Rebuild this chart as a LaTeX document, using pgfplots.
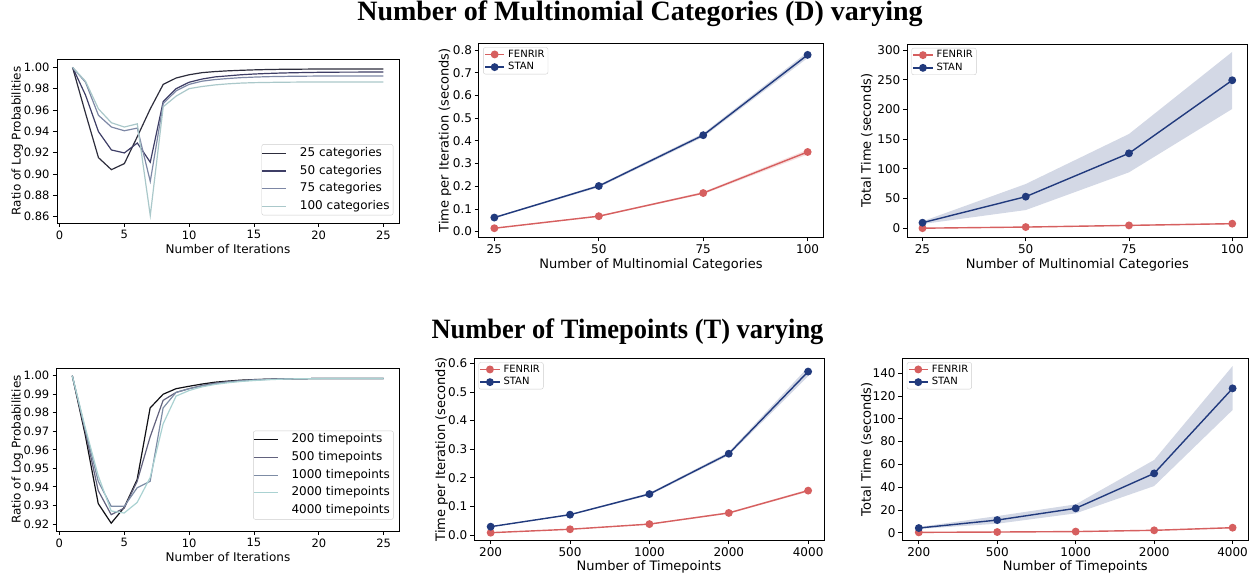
\documentclass[border=0pt]{standalone}
\usepackage{fontspec}
\setmainfont{DejaVu Sans}
\newfontfamily\titlefont{Liberation Serif}
\usepackage{graphicx}
\usepackage{pgfplots}
\pgfplotsset{compat=1.18}

\definecolor{fenrir}{RGB}{214,95,95}
\definecolor{stan}{RGB}{33,58,125}
\definecolor{cA}{RGB}{45,45,60}
\definecolor{cB}{RGB}{62,62,102}
\definecolor{cC}{RGB}{125,135,165}
\definecolor{cD}{RGB}{170,200,202}
\definecolor{tA}{RGB}{15,15,20}
\definecolor{tB}{RGB}{98,98,125}
\definecolor{tC}{RGB}{125,140,165}
\definecolor{tD}{RGB}{170,210,210}

\pgfplotsset{
  base/.style={
    scale only axis, tick align=outside, tick pos=left,
    major tick length=4pt, axis line style={line width=0.8pt},
    every tick/.style={black, line width=0.8pt},
    /pgf/number format/assume math mode=true,
    scaled y ticks=false, scaled x ticks=false,
    legend cell align=left,
  },
  convp/.style={base,
    tick label style={font=\fontsize{11.5}{13}\selectfont},
    label style={font=\fontsize{12}{14}\selectfont},
    xmin=-0.2, xmax=26.2, xtick={0,5,10,15,20,25},
    yticklabel style={/pgf/number format/.cd, fixed, fixed zerofill, precision=2},
    xlabel={Number of Iterations}, ylabel={Ratio of Log Probabilities},
    legend style={at={(axis description cs:1,0)}, anchor=south east,
      xshift=-5.7pt, yshift=7.6pt, draw=black!20, rounded corners=2pt,
      font=\fontsize{12}{14}\selectfont, inner sep=0pt,
      nodes={inner xsep=3.5pt, inner ysep=3.2pt, text height=8.8pt, text depth=2.5pt},
      /tikz/every odd column/.append style={column sep=9.5pt}},
    legend image code/.code={\draw[#1] (0pt,0pt) -- (24pt,0pt);},
    every axis plot/.append style={line width=1.2pt},
  },
  timep/.style={base,
    tick label style={font=\fontsize{12}{14}\selectfont},
    yticklabel style={inner xsep=2.5pt},
    label style={font=\fontsize{13}{15}\selectfont},
    legend style={at={(axis description cs:0,1)}, anchor=north west,
      xshift=4.5pt, yshift=-4pt, draw=black!20, rounded corners=2pt,
      font=\fontsize{10}{11}\selectfont, inner xsep=0.9pt, inner ysep=0.6pt,
      nodes={inner xsep=2.5pt, inner ysep=1.65pt, text height=7.3pt, text depth=2.1pt},
      /tikz/every odd column/.append style={column sep=0.7pt}},
    legend image code/.code={\draw[mark repeat=2,mark phase=2,#1] plot coordinates {(0pt,0pt) (9.65pt,0pt) (19.3pt,0pt)};},
  },
  fen/.style={color=fenrir, line width=1.4pt, mark=*, mark size=3.2pt, mark options={solid, fill=fenrir}},
  sta/.style={color=stan, line width=1.4pt, mark=*, mark size=3.2pt, mark options={solid, fill=stan}},
  fenband/.style={draw=none, fill=fenrir, fill opacity=0.2, forget plot},
  staband/.style={draw=none, fill=stan, fill opacity=0.2, forget plot},
}

\begin{document}
\begin{tikzpicture}
\useasboundingbox (0pt,0pt) rectangle (1259pt,577pt);

\node[anchor=base, font=\titlefont\bfseries\fontsize{28}{30}\selectfont] at (640pt,556pt) {Number of Multinomial Categories (D) varying};
\node[anchor=base, font=\titlefont\bfseries\fontsize{28}{30}\selectfont] at (627.5pt,238.7pt) {\scalebox{0.945}[1]{Number of Timepoints (T) varying}};

% ---- top left: convergence over categories
\begin{axis}[convp, at={(57pt,354pt)}, anchor=south west, width=342pt, height=164pt,
  ymin=0.854, ymax=1.0078, ytick={0.86,0.88,...,1.001},
  xlabel style={at={(axis description cs:0.5,-0.1585)}, anchor=center},
  ylabel style={at={(axis description cs:-0.1161,0.5)}, anchor=center}]
\addplot[cA] coordinates {(1,1.000)(2,0.957)(3,0.9153)(4,0.904)(5,0.9097)(6,0.935)(7,0.961)(8,0.984)(9,0.990)(10,0.993)(11,0.995)(12,0.996)(13,0.9967)(14,0.9972)(15,0.9976)(16,0.9979)(17,0.9981)(18,0.9982)(19,0.9983)(20,0.9984)(21,0.9984)(22,0.9985)(23,0.9985)(24,0.9985)(25,0.9985)};
\addlegendentry{25 categories}
\addplot[cB] coordinates {(1,1.000)(2,0.974)(3,0.9397)(4,0.9225)(5,0.9197)(6,0.929)(7,0.911)(8,0.968)(9,0.980)(10,0.986)(11,0.989)(12,0.991)(13,0.992)(14,0.993)(15,0.9937)(16,0.9942)(17,0.9946)(18,0.9949)(19,0.9951)(20,0.9953)(21,0.9954)(22,0.9955)(23,0.9955)(24,0.9956)(25,0.9956)};
\addlegendentry{50 categories}
\addplot[cC] coordinates {(1,1.000)(2,0.986)(3,0.955)(4,0.944)(5,0.9405)(6,0.943)(7,0.893)(8,0.966)(9,0.978)(10,0.984)(11,0.987)(12,0.9885)(13,0.9895)(14,0.9903)(15,0.9908)(16,0.9912)(17,0.9914)(18,0.9916)(19,0.9917)(20,0.9918)(21,0.9918)(22,0.9919)(23,0.9919)(24,0.9919)(25,0.9919)};
\addlegendentry{75 categories}
\addplot[cD] coordinates {(1,1.000)(2,0.987)(3,0.961)(4,0.948)(5,0.944)(6,0.947)(7,0.861)(8,0.963)(9,0.973)(10,0.980)(11,0.982)(12,0.9835)(13,0.9845)(14,0.9852)(15,0.9856)(16,0.9858)(17,0.986)(18,0.9861)(19,0.9862)(20,0.9862)(21,0.9862)(22,0.9863)(23,0.9863)(24,0.9863)(25,0.9863)};
\addlegendentry{100 categories}
\end{axis}

% ---- top middle: time per iteration vs categories
\begin{axis}[timep, at={(478.7pt,339.7pt)}, anchor=south west, width=344.6pt, height=194pt,
  xmin=21.25, xmax=103.75, xtick={25,50,75,100},
  ymin=-0.025, ymax=0.83, ytick={0,0.1,...,0.81},
  yticklabel style={/pgf/number format/.cd, fixed, fixed zerofill, precision=1},
  xlabel={Number of Multinomial Categories}, ylabel={Time per Iteration (seconds)},
  xlabel style={at={(axis description cs:0.5,-0.1428)}, anchor=center},
  ylabel style={at={(axis description cs:-0.0978,0.5)}, anchor=center}]
\addplot[fenband] coordinates {(25,0.013)(50,0.065)(75,0.165)(100,0.340)(100,0.361)(75,0.175)(50,0.071)(25,0.017)};
\addplot[staband] coordinates {(25,0.059)(50,0.195)(75,0.417)(100,0.765)(100,0.792)(75,0.433)(50,0.206)(25,0.065)};
\addplot[fen] coordinates {(25,0.015)(50,0.068)(75,0.170)(100,0.351)};
\addlegendentry{FENRIR}
\addplot[sta] coordinates {(25,0.062)(50,0.201)(75,0.425)(100,0.779)};
\addlegendentry{STAN}
\end{axis}

% ---- top right: total time vs categories
\begin{axis}[timep, at={(907pt,339.7pt)}, anchor=south west, width=340.7pt, height=193.3pt,
  xmin=21.25, xmax=103.75, xtick={25,50,75,100},
  ymin=-15, ymax=310, ytick={0,50,...,300},
  xlabel={Number of Multinomial Categories}, ylabel={Total Time (seconds)},
  xlabel style={at={(axis description cs:0.5,-0.1433)}, anchor=center},
  ylabel style={at={(axis description cs:-0.1183,0.5)}, anchor=center}]
\addplot[fenband] coordinates {(25,0.1)(50,1.6)(75,3.9)(100,6.6)(100,9.0)(75,5.8)(50,2.8)(25,0.6)};
\addplot[staband] coordinates {(25,7.3)(50,30.8)(75,94.2)(100,200.8)(100,296.7)(75,158.7)(50,74.6)(25,11.8)};
\addplot[fen] coordinates {(25,0.3)(50,2.2)(75,5.0)(100,7.9)};
\addlegendentry{FENRIR}
\addplot[sta] coordinates {(25,9.5)(50,53.3)(75,126.2)(100,249)};
\addlegendentry{STAN}
\end{axis}

% ---- bottom left: convergence over timepoints
\begin{axis}[convp, at={(56.7pt,46pt)}, anchor=south west, width=342.6pt, height=162.7pt,
  ymin=0.9162, ymax=1.004, ytick={0.92,0.93,...,1.001},
  xlabel style={at={(axis description cs:0.5,-0.158)}, anchor=center},
  ylabel style={at={(axis description cs:-0.115,0.5)}, anchor=center},
  legend style={yshift=3.8pt}]
\addplot[tA] coordinates {(1,1.000)(2,0.968)(3,0.931)(4,0.9204)(5,0.9289)(6,0.944)(7,0.9826)(8,0.990)(9,0.993)(10,0.9943)(11,0.9955)(12,0.9965)(13,0.9971)(14,0.9976)(15,0.9979)(16,0.9981)(17,0.9983)(18,0.9984)(19,0.9984)(20,0.9985)(21,0.9985)(22,0.9985)(23,0.9985)(24,0.9985)(25,0.9985)};
\addlegendentry{200 timepoints}
\addplot[tB] coordinates {(1,1.000)(2,0.970)(3,0.938)(4,0.925)(5,0.9285)(6,0.943)(7,0.967)(8,0.9867)(9,0.991)(10,0.993)(11,0.9947)(12,0.996)(13,0.9968)(14,0.9974)(15,0.9978)(16,0.9981)(17,0.9983)(18,0.9984)(19,0.9984)(20,0.9985)(21,0.9985)(22,0.9985)(23,0.9985)(24,0.9985)(25,0.9985)};
\addlegendentry{500 timepoints}
\addplot[tC] coordinates {(1,1.000)(2,0.971)(3,0.943)(4,0.9295)(5,0.9295)(6,0.9395)(7,0.943)(8,0.9826)(9,0.991)(10,0.993)(11,0.9945)(12,0.9957)(13,0.9966)(14,0.9972)(15,0.9977)(16,0.998)(17,0.9982)(18,0.9983)(19,0.9984)(20,0.9985)(21,0.9985)(22,0.9985)(23,0.9985)(24,0.9985)(25,0.9985)};
\addlegendentry{1000 timepoints}
\addplot[tD] coordinates {(1,1.000)(2,0.972)(3,0.946)(4,0.927)(5,0.9259)(6,0.9316)(7,0.945)(8,0.974)(9,0.989)(10,0.992)(11,0.994)(12,0.9953)(13,0.9962)(14,0.9969)(15,0.9974)(16,0.9978)(17,0.9981)(18,0.9983)(19,0.9984)(20,0.9984)(21,0.9985)(22,0.9985)(23,0.9985)(24,0.9985)(25,0.9985)};
\addlegendentry{2000 timepoints}
\addlegendimage{white, line width=1.2pt}
\addlegendentry{4000 timepoints}
\end{axis}

% ---- bottom middle: time per iteration vs timepoints
\begin{axis}[timep, at={(474pt,37pt)}, anchor=south west, width=350pt, height=181.7pt,
  xmin=-0.21, xmax=4.2, xtick={0,1,2,3,4}, xticklabels={200,500,1000,2000,4000},
  ymin=-0.0175, ymax=0.6175, ytick={0,0.1,...,0.61},
  yticklabel style={/pgf/number format/.cd, fixed, fixed zerofill, precision=1},
  xlabel={Number of Timepoints}, ylabel={Time per Iteration (seconds)},
  xlabel style={at={(axis description cs:0.5,-0.147)}, anchor=center},
  ylabel style={at={(axis description cs:-0.093,0.5)}, anchor=center}]
\addplot[fenband] coordinates {(0,0.007)(1,0.019)(2,0.036)(3,0.074)(4,0.151)(4,0.159)(3,0.080)(2,0.040)(1,0.021)(0,0.009)};
\addplot[staband] coordinates {(0,0.028)(1,0.069)(2,0.139)(3,0.278)(4,0.555)(4,0.587)(3,0.290)(2,0.147)(1,0.073)(0,0.030)};
\addplot[fen] coordinates {(0,0.008)(1,0.020)(2,0.038)(3,0.077)(4,0.155)};
\addlegendentry{FENRIR}
\addplot[sta] coordinates {(0,0.029)(1,0.071)(2,0.143)(3,0.284)(4,0.571)};
\addlegendentry{STAN}
\end{axis}

% ---- bottom right: total time vs timepoints
\begin{axis}[timep, at={(902.3pt,37pt)}, anchor=south west, width=346pt, height=181.7pt,
  xmin=-0.21, xmax=4.2, xtick={0,1,2,3,4}, xticklabels={200,500,1000,2000,4000},
  ymin=-6.4, ymax=153.2, ytick={0,20,...,140},
  xlabel={Number of Timepoints}, ylabel={Total Time (seconds)},
  xlabel style={at={(axis description cs:0.5,-0.147)}, anchor=center},
  ylabel style={at={(axis description cs:-0.1029,0.5)}, anchor=center}]
\addplot[fenband] coordinates {(0,0.1)(1,0.4)(2,0.8)(3,1.7)(4,3.8)(4,5.0)(3,2.5)(2,1.2)(1,0.8)(0,0.5)};
\addplot[staband] coordinates {(0,3.3)(1,7.9)(2,17.0)(3,41.0)(4,107.8)(4,146.4)(3,63.9)(2,24.9)(1,14.6)(0,5.0)};
\addplot[fen] coordinates {(0,0.3)(1,0.6)(2,1.0)(3,2.1)(4,4.4)};
\addlegendentry{FENRIR}
\addplot[sta] coordinates {(0,4.1)(1,11.1)(2,21.4)(3,52.1)(4,126.8)};
\addlegendentry{STAN}
\end{axis}
\end{tikzpicture}
\end{document}
